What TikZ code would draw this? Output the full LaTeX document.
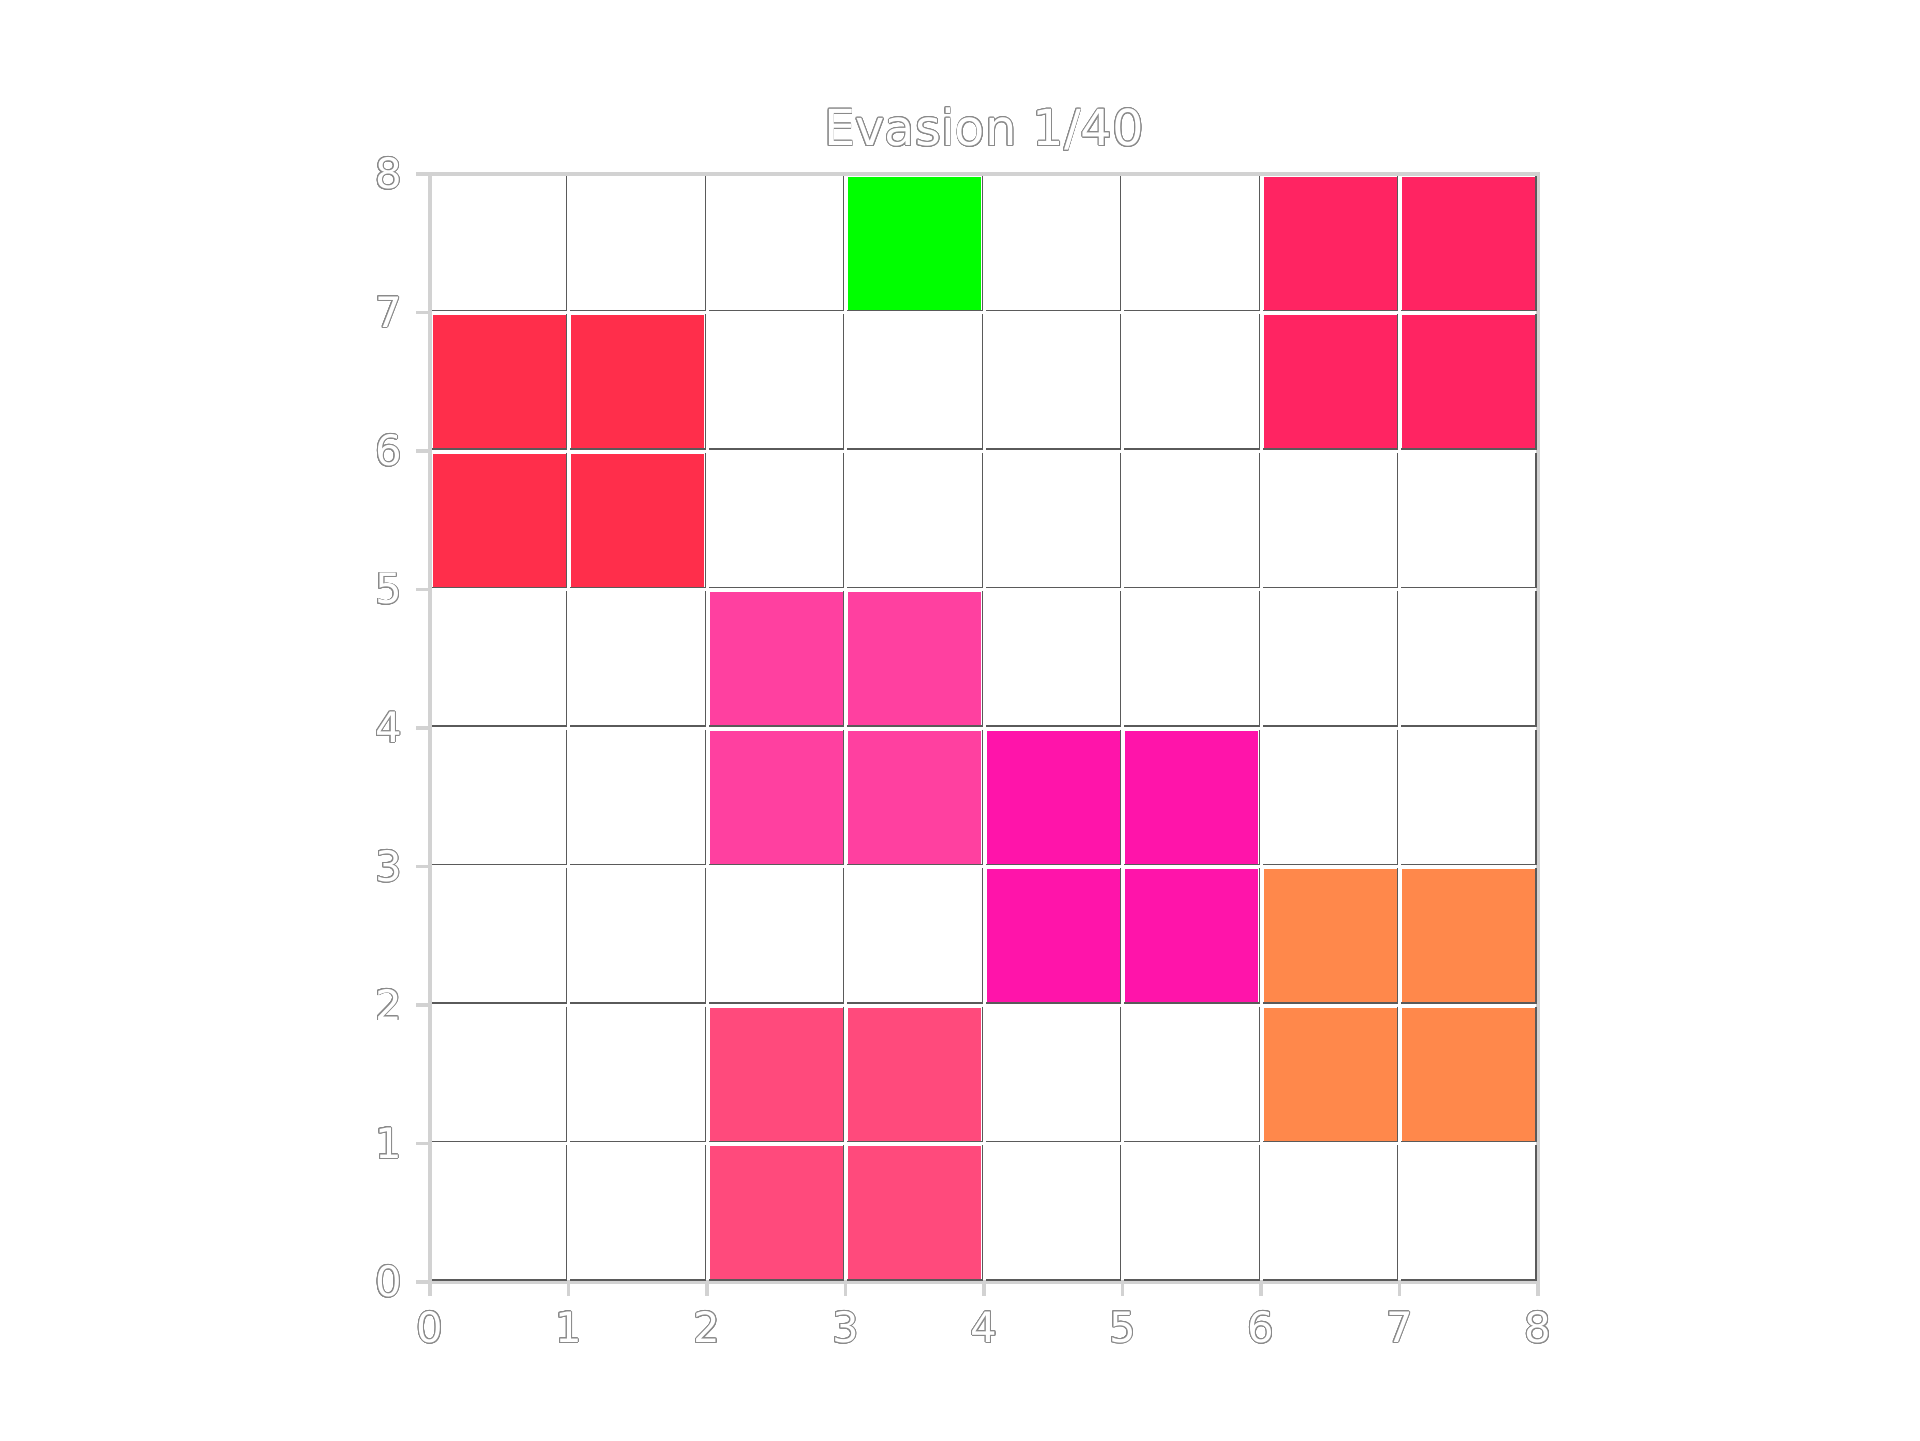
\documentclass[tikz,border=0pt]{standalone}
\usepackage{fontspec}
\setmainfont{DejaVu Sans}
\usepackage[copies]{contour}
\usetikzlibrary{positioning,calc}
\definecolor{frameGrey}{HTML}{D2D2D2}
\definecolor{edgeDark}{HTML}{5A5A5A}
\definecolor{textEdge}{HTML}{8A8A8A}
\definecolor{goalGreen}{HTML}{00FF00}
\definecolor{agentRed}{HTML}{FF2E4B}
\definecolor{agentCrimson}{HTML}{FF2462}
\definecolor{agentPink}{HTML}{FF40A0}
\definecolor{agentMagenta}{HTML}{FF14AA}
\definecolor{agentOrange}{HTML}{FF884B}
\definecolor{agentRose}{HTML}{FF4A7C}
\contourlength{0.18pt}
\contournumber{24}

\begin{document}
\begin{tikzpicture}[
  cell/.style={rectangle, inner sep=0pt, minimum size=0.96cm, fill=white},
  shade/.style={draw=edgeDark, line width=0.3pt},
  frame/.style={draw=frameGrey, line width=0.8pt},
  tick/.style={draw=frameGrey, line width=0.8pt},
  ticklbl/.style={font=\fontsize{8.6}{10}\selectfont, text=white, inner sep=0pt},
  title/.style={font=\fontsize{10.2}{12}\selectfont, text=white, inner sep=0pt},
]
\useasboundingbox (-3.105,-1.148) rectangle (10.758,9.256);

% ---------------- AXES ----------------
\draw[frame] (0,0) rectangle (8,8);
\foreach \k in {0,...,8} {
  \draw[tick] (-0.1,\k) -- (0,\k);
  \draw[tick] (\k,-0.1) -- (\k,0);
  \node[ticklbl] (ylbl\k) at (-0.30,\k) {\contour{textEdge}{\k}};
  \node[ticklbl] (xlbl\k) at (\k,-0.33) {\contour{textEdge}{\k}};
}

% ---------------- CELLS ----------------
\foreach \x in {0,...,7} {
  \foreach \y in {0,...,7} {
    \node[cell] (c\x\y) at (\x+0.5,\y+0.5) {};
  }
}
\foreach \x/\y/\col in {3/7/goalGreen,
    0/6/agentRed, 1/6/agentRed, 0/5/agentRed, 1/5/agentRed,
    6/7/agentCrimson, 7/7/agentCrimson, 6/6/agentCrimson, 7/6/agentCrimson,
    2/4/agentPink, 3/4/agentPink, 2/3/agentPink, 3/3/agentPink,
    4/3/agentMagenta, 5/3/agentMagenta, 4/2/agentMagenta, 5/2/agentMagenta,
    6/2/agentOrange, 7/2/agentOrange, 6/1/agentOrange, 7/1/agentOrange,
    2/1/agentRose, 3/1/agentRose, 2/0/agentRose, 3/0/agentRose} {
  \node[cell, fill=\col] (c\x\y) at (\x+0.5,\y+0.5) {};
}
% shadow edges, right and bottom
\foreach \x in {0,...,7} {
  \foreach \y in {0,...,7} {
    \draw[shade] (c\x\y.north east) -- (c\x\y.south east) -- (c\x\y.south west);
  }
}

% ---------------- TITLE ----------------
\node[title] (ttl) at (4,8.32) {\contour{textEdge}{Evasion 1/40}};
\end{tikzpicture}
\end{document}
